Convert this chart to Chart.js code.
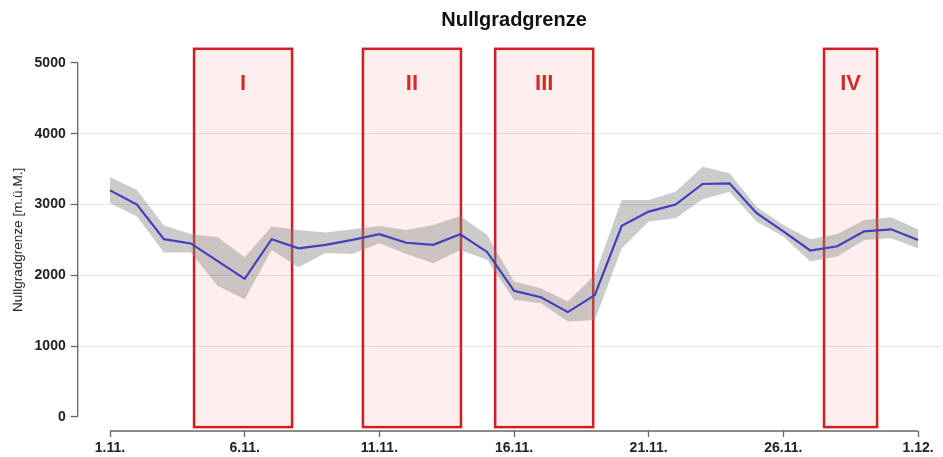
<!DOCTYPE html>
<html><head><meta charset="utf-8">
<script src="https://cdn.jsdelivr.net/npm/chart.js@4.4.0/dist/chart.umd.min.js"></script>
<style>html,body{margin:0;padding:0;background:#fff}</style>
</head><body>
<canvas id="c" width="943" height="457"></canvas>
<script>
// ---- data ----
const days = [1,2,3,4,5,6,7,8,9,10,11,12,13,14,15,16,17,18,19,20,21,22,23,24,25,26,27,28,29,30,31];
const meanValues  = [3200,3000,2510,2450,2200,1950,2510,2380,2430,2500,2580,2460,2430,2580,2330,1780,1690,1480,1720,2700,2900,3000,3290,3300,2880,2620,2350,2410,2620,2650,2500];
const upperValues = [3385,3206,2702,2585,2538,2256,2688,2641,2603,2651,2698,2641,2712,2839,2571,1911,1818,1629,2006,3065,3065,3182,3535,3442,2970,2712,2510,2585,2782,2820,2651];
const lowerValues = [3022,2829,2321,2321,1850,1662,2359,2114,2316,2302,2453,2302,2171,2359,2218,1653,1606,1346,1370,2383,2759,2806,3075,3182,2759,2547,2194,2264,2500,2524,2383];
const periodLabels = ['I','II','III','IV'];
const periodStart  = [4.12,10.39,15.30,27.51];
const periodEnd    = [7.76,14.03,18.94,29.48];
const periodBottom = -145;
const periodTop    = 5200;
const xTickValues = [1,6,11,16,21,26,31];
const xTickLabels = ['1.11.','6.11.','11.11.','16.11.','21.11.','26.11.','1.12.'];
const yTickValues = [0,1000,2000,3000,4000,5000];
const chartTitle = 'Nullgradgrenze';
const yAxisTitle = 'Nullgradgrenze [m.ü.M.]';

const pts = arr => days.map((d,i)=>({x:d,y:arr[i]}));
const FONT = '"Liberation Sans", Arial, sans-serif';
Chart.defaults.font.family = FONT;

const overlay = {
  id:'overlay',
  beforeDatasetsDraw(chart){
    const {ctx, scales:{x,y}} = chart;
    ctx.save();
    const yT = y.getPixelForValue(periodTop), yB = y.getPixelForValue(periodBottom);
    periodStart.forEach((s,i)=>{
      const x0 = x.getPixelForValue(s), x1 = x.getPixelForValue(periodEnd[i]);
      ctx.fillStyle = 'rgba(255,0,0,0.065)';
      ctx.fillRect(x0, yT, x1-x0, yB-yT);
      ctx.strokeStyle = 'rgb(210,30,34)';
      ctx.lineWidth = 2.5;
      ctx.strokeRect(x0, yT, x1-x0, yB-yT);
    });
    ctx.restore();
  },
  afterDatasetsDraw(chart){
    const {ctx, chartArea, scales:{x,y}} = chart;
    ctx.save();
    periodStart.forEach((s,i)=>{
      const x0 = x.getPixelForValue(s), x1 = x.getPixelForValue(periodEnd[i]);
      ctx.fillStyle = '#d42a2a';
      ctx.font = 'bold 22px ' + FONT;
      ctx.textAlign = 'center';
      ctx.textBaseline = 'middle';
      ctx.fillText(periodLabels[i], (x0+x1)/2, y.getPixelForValue(4700));
    });
    // title centred over the plot region
    ctx.fillStyle = '#111';
    ctx.font = 'bold 20px ' + FONT;
    ctx.textAlign = 'center';
    ctx.textBaseline = 'middle';
    ctx.fillText(chartTitle, x.getPixelForValue((xTickValues[0]+xTickValues[xTickValues.length-1])/2), 20);
    // axis lines (R style)
    ctx.strokeStyle = '#666';
    ctx.lineWidth = 1.3;
    ctx.beginPath();
    ctx.moveTo(chartArea.left, y.getPixelForValue(yTickValues[0]));
    ctx.lineTo(chartArea.left, y.getPixelForValue(yTickValues[yTickValues.length-1]));
    ctx.moveTo(x.getPixelForValue(xTickValues[0]), chartArea.bottom);
    ctx.lineTo(x.getPixelForValue(xTickValues[xTickValues.length-1]), chartArea.bottom);
    ctx.stroke();
    ctx.restore();
  }
};

new Chart(document.getElementById('c'), {
  type:'line',
  data:{datasets:[
    {label:'lower', data:pts(lowerValues), borderColor:'transparent', borderWidth:0, pointRadius:0, fill:false, tension:0},
    {label:'upper', data:pts(upperValues), borderColor:'transparent', borderWidth:0, pointRadius:0, fill:'-1', backgroundColor:'rgba(130,130,130,0.42)', tension:0},
    {label:'mean', data:pts(meanValues), borderColor:'#1010e8', borderWidth:2.2, pointRadius:0, fill:false, tension:0}
  ]},
  options:{
    responsive:false, animation:false, devicePixelRatio:1,
    layout:{padding:{left:0,right:3,top:48.8,bottom:0}},
    plugins:{
      legend:{display:false}, tooltip:{enabled:false}, title:{display:false}
    },
    scales:{
      x:{type:'linear', min:-0.2, max:31.816,
        afterBuildTicks:s=>{s.ticks = xTickValues.map(v=>({value:v}));},
        afterFit:s=>{s.height = 26;},
        ticks:{autoSkip:false, maxRotation:0, color:'#222', padding:3, font:{size:14, weight:'bold'},
          callback:(v)=>xTickLabels[xTickValues.indexOf(v)]},
        grid:{display:true, drawOnChartArea:false, drawTicks:true, tickLength:6, tickColor:'#666', tickWidth:1.3},
        border:{display:false}
      },
      y:{type:'linear', min:-200, max:5200,
        afterBuildTicks:s=>{s.ticks = yTickValues.map(v=>({value:v}));},
        afterFit:s=>{s.width = 77.7;},
        ticks:{color:'#222', padding:5, font:{size:14, weight:'bold'}, callback:(v)=>String(v)},
        grid:{color:c=>(c.tick && c.tick.value>0 && c.tick.value<5000)?'#e4e4e4':'rgba(0,0,0,0)', lineWidth:1, tickLength:7, tickColor:'#666', tickWidth:1.3},
        border:{display:false},
        title:{display:true, text:yAxisTitle, color:'#222', font:{size:13.5}, padding:{top:10,bottom:0}}
      }
    }
  },
  plugins:[overlay]
});
</script>
</body></html>
